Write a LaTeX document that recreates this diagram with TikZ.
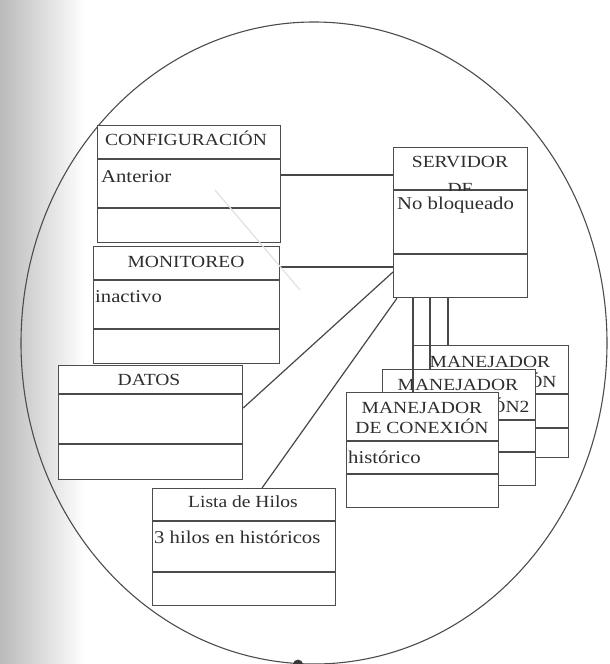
\documentclass[tikz,border=0pt]{standalone}
\usepackage{fontspec}
\setmainfont[FakeStretch=1.15]{Liberation Serif}
\usetikzlibrary{shapes.geometric}
\newcommand\classsep[2]{\draw[ink] ([yshift=-#2pt]#1.north west) -- ([yshift=-#2pt]#1.north east);}
\definecolor{bleed}{RGB}{232,222,222}
\begin{document}
\begin{tikzpicture}[x=1pt,y=-1pt,
  ink/.style={draw=black!70, line width=1.2pt},
  classbox/.style={ink, fill=white, rectangle, inner sep=0pt, anchor=north west},
  hdr/.style={font=\fontsize{17}{20}\selectfont, text=black!82, inner sep=0pt, anchor=base},
  attr/.style={font=\fontsize{18}{21}\selectfont, text=black!82, inner sep=0pt, anchor=base west},
  link/.style={draw=black!72, line width=1.2pt}]
\useasboundingbox (0,0) rectangle (610,664);
% page shadow along the left edge
\shade[left color=black!27, right color=white] (0,0) rectangle (85,664);
% enclosing outline
\node[ellipse, draw=black!70, line width=1.1pt, minimum width=586pt, minimum height=642pt, inner sep=0pt] (bound) at (314,343) {};
\fill[black!78] (bound.south) ++(-16,0) circle (5pt);

% class boxes that link to the server
\node[classbox, minimum width=183pt, minimum height=117pt] (cfg) at (97,125) {};
\node[classbox, minimum width=186pt, minimum height=117pt] (mon) at (93,246) {};
\node[classbox, minimum width=184pt, minimum height=114pt] (dat) at (58,365) {};
\node[classbox, minimum width=183pt, minimum height=117pt] (lst) at (152,488) {};
\node[classbox, minimum width=134pt, minimum height=150pt] (srv) at (393,147) {};

\draw[link] ([yshift=-50pt]cfg.north east) -- ([yshift=-28pt]srv.north west);
\draw[link] ([yshift=-21pt]mon.north east) -- ([yshift=-120pt]srv.north west);
\draw[link] ([yshift=-43pt]dat.north east) -- ([yshift=-125pt]srv.north west);
\draw[link] ([xshift=110pt]lst.north west) -- ([xshift=4pt]srv.south west);

% CONFIGURACION
\classsep{cfg}{34}
\classsep{cfg}{83}
\node[hdr] (cfgT) at (186,145) {CONFIGURACIÓN};
\node[attr] (cfgA) at (101,182) {Anterior};

% MONITOREO
\classsep{mon}{34}
\classsep{mon}{83}
\node[hdr] (monT) at (186,267) {MONITOREO};
\node[attr] (monA) at (95,302) {inactivo};

% DATOS
\classsep{dat}{29}
\classsep{dat}{79}
\node[hdr] (datT) at (149,385) {DATOS};

% Lista de Hilos
\classsep{lst}{33}
\classsep{lst}{84}
\node[hdr] (lstT) at (243,507) {Lista de Hilos};
\node[attr] (lstA) at (154,543) {3 hilos en históricos};

% SERVIDOR DF
\classsep{srv}{43}
\classsep{srv}{107}
\node[hdr] (srvT) at (460,167) {SERVIDOR};
\begin{scope}
  \clip (srv.north west) rectangle ([yshift=-43pt]srv.north east);
  \node[hdr] (srvT2) at (460,194) {DF};
\end{scope}
\node[attr] (srvA) at (397,209) {No bloqueado};

% stacked connection handlers
\node[classbox, minimum width=155pt, minimum height=112pt] (mnB) at (413,345) {};
\classsep{mnB}{49}
\classsep{mnB}{83}
\node[hdr] (mnBT) at (490,367) {MANEJADOR};
\node[hdr] (mnBT2) at (490,387) {DE CONEXIÓN};

\node[classbox, minimum width=153pt, minimum height=116pt] (mnM) at (382,369) {};
\classsep{mnM}{51}
\classsep{mnM}{83}
\node[hdr] (mnMT) at (458,390) {MANEJADOR};
\node[hdr] (mnMT2) at (458,412) {DE CONEXIÓN2};

\node[classbox, minimum width=152pt, minimum height=115pt] (mnF) at (346,392) {};
\classsep{mnF}{49}
\classsep{mnF}{82}
\node[hdr] (mnFT) at (422,413) {MANEJADOR};
\node[hdr] (mnFT2) at (422,433) {DE CONEXIÓN};
\node[attr] (mnFA) at (348,463) {histórico};

% server to handlers
\draw[link] ([xshift=20pt]srv.south west) -- ([xshift=67pt]mnF.north west);
\draw[link] ([xshift=37pt]srv.south west) -- ([xshift=48pt]mnM.north west);
\draw[link] ([xshift=55pt]srv.south west) -- ([xshift=35pt]mnB.north west);

% faint stroke showing through the paper
\draw[bleed, line width=1.2pt] (cfg.center) ++(26,6) coordinate (b1) -- ++(85,100) coordinate (b2);
\end{tikzpicture}
\end{document}
